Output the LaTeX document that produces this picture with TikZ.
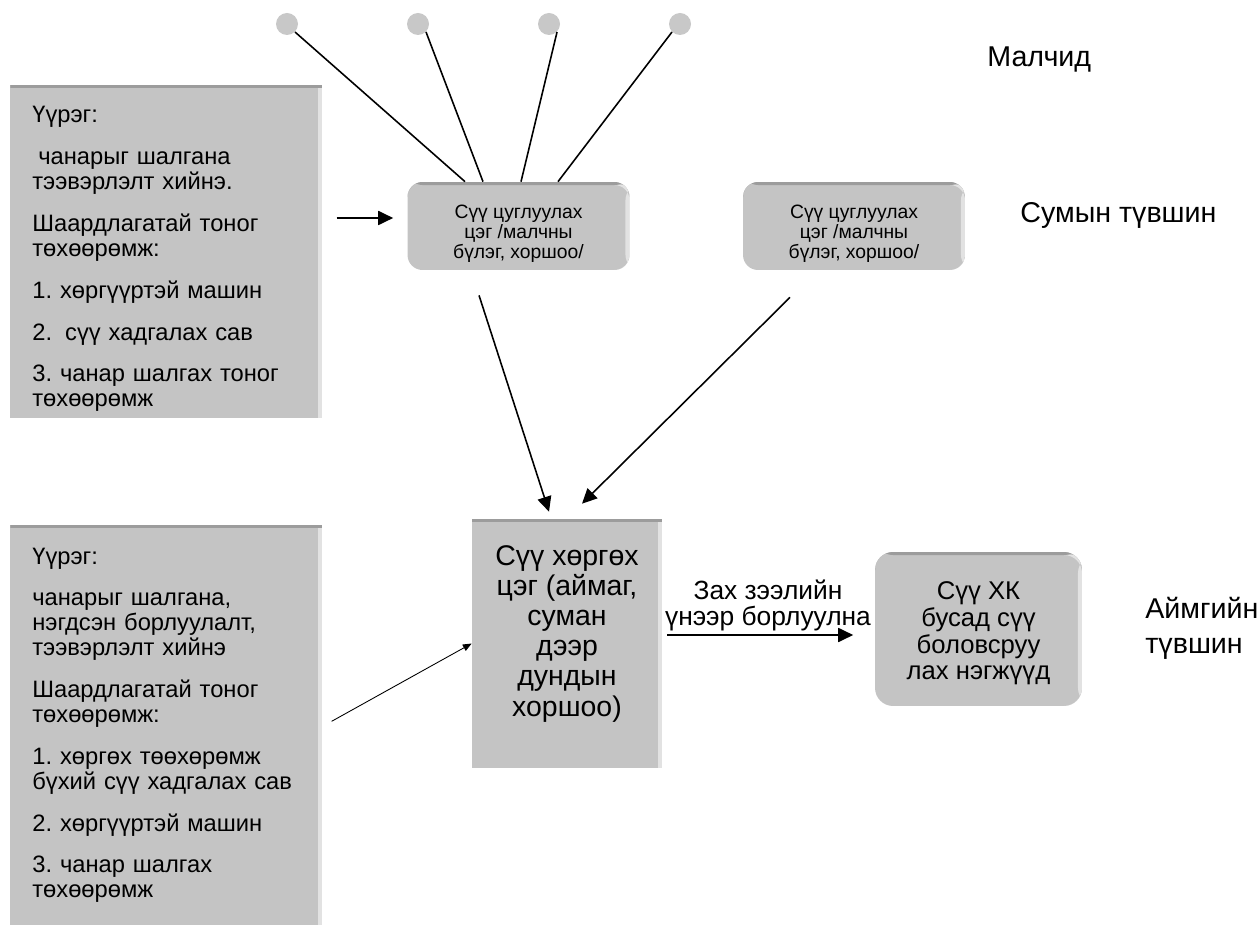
\documentclass[tikz,border=0pt]{standalone}
\usepackage{fontspec}
\setmainfont{Liberation Sans}
\usepackage{xcolor}
\usetikzlibrary{arrows.meta,calc}
\definecolor{boxgray}{HTML}{C4C4C4}
\definecolor{boxtop}{HTML}{9C9C9C}
\definecolor{boxside}{HTML}{E2E2E2}
\definecolor{dotgray}{HTML}{C8C8C8}
\frenchspacing

\tikzset{
  bevelbox/.style={fill=boxgray, path picture={
      \fill[boxtop] (path picture bounding box.north west) rectangle ([yshift=-0.06cm]path picture bounding box.north east);
      \fill[boxside] ([xshift=-0.08cm]path picture bounding box.south east) rectangle ([yshift=-0.06cm]path picture bounding box.north east);}},
  rolebox/.style={bevelbox, anchor=north west, minimum width=6.24cm, text width=5.36cm,
    inner xsep=0.44cm, inner ysep=0pt, align=left, font=\fontsize{13.5}{14.2}\selectfont},
  collectbox/.style={bevelbox, rounded corners=0.3cm, minimum width=4.44cm, minimum height=1.76cm,
    align=center, inner sep=0pt, font=\fontsize{11}{11.6}\selectfont},
  levellabel/.style={anchor=base west, align=left, inner sep=0pt, font=\fontsize{16.3}{19.8}\selectfont},
  farmer/.style={circle, fill=dotgray, minimum size=0.44cm, inner sep=0pt},
  flow/.style={-{Triangle[length=8.5pt,width=8pt]}, line width=0.9pt},
}

\begin{document}
\begin{tikzpicture}[x=0.02cm, y=-0.02cm]
\useasboundingbox (0,0) rectangle (1260,925);

% herders
\foreach \x [count=\i] in {287,418,549,680}
  \node[farmer] (m\i) at (\x,24) {};

% soum level
\node[rolebox, minimum height=6.66cm] (role1) at (10,85) {\rule{0pt}{17.7pt}Үүрэг:\\[9.6pt]
  \hspace*{0.25em}чанарыг шалгана\\ тээвэрлэлт хийнэ.\\[9.6pt]
  Шаардлагатай тоног\\ төхөөрөмж:\\[9.6pt]
  1. хөргүүртэй машин\\[9.6pt]
  2.\hspace*{0.55em}сүү хадгалах сав\\[9.6pt]
  3. чанар шалгах тоног\\ төхөөрөмж};
\node[collectbox] (col1) at (518.5,226) {\rule{0pt}{16.5pt}Сүү цуглуулах\\цэг /малчны\\бүлэг, хоршоо/};
\node[collectbox] (col2) at (854,226) {\rule{0pt}{16.5pt}Сүү цуглуулах\\цэг /малчны\\бүлэг, хоршоо/};

% aimag level
\node[rolebox, minimum height=8cm] (role2) at (10,525) {Үүрэг:\\[9.6pt]
  чанарыг шалгана,\\ нэгдсэн борлуулалт,\\ тээвэрлэлт хийнэ\\[9.6pt]
  Шаардлагатай тоног\\ төхөөрөмж:\\[9.6pt]
  1. хөргөх төөхөрөмж\\ бүхий сүү хадгалах сав\\[9.6pt]
  2. хөргүүртэй машин\\[9.6pt]
  3. чанар шалгах\\ төхөөрөмж};
\node[bevelbox, minimum width=3.8cm, minimum height=4.98cm, align=center,
  font=\fontsize{16.2}{17.2}\selectfont] (cool) at (567,643.5)
  {Сүү хөргөх\\цэг (аймаг,\\суман\\дээр\\дундын\\хоршоо)\rule[-14.6pt]{0pt}{0pt}};
\node[bevelbox, rounded corners=0.36cm, minimum width=4.14cm, minimum height=3.08cm, align=center,
  font=\fontsize{14.6}{15.1}\selectfont] (plant) at (978.5,629)
  {\rule{0pt}{15.3pt}Сүү ХК\\бусад сүү\\боловсруу\\лах нэгжүүд};

% level labels
\node[levellabel] (herders) at (987,67) {Малчид};
\node[levellabel] (soum) at (1020,223) {Сумын түвшин};
\node[levellabel, anchor=north west] (aimag) at (1145,597) {Аймгийн\\түвшин};

% connectors
\foreach \i/\a/\dx in {1/south east/-53.5, 2/south east/-35.5, 3/south east/2.5, 4/south west/39.5}
  \draw[line width=0.9pt] (m\i.\a) -- ($(col1.north)+(\dx,0)$);
\draw[flow] ($(role1.east|-col1.west)+(14,-8)$) -- ($(col1.west)+(-14,-8)$);
\draw[flow] ($(col1.south)+(-39.5,25)$) -- ($(cool.north)+(-18,-7)$);
\draw[flow] ($(col2.south)+(-64,27)$) -- ($(cool.north)+(15,-15)$);
\draw[flow] ($(cool.east)+(5,-8.5)$) -- ($(plant.west)+(-21.5,6)$);
\node[anchor=south, align=center, inner sep=0pt, font=\fontsize{15}{14.7}\selectfont] (sale) at (768,631)
  {Зах зээлийн\\үнээр борлуулна};
\draw[-{Triangle[length=5pt,width=4pt]}, line width=0.5pt] ($(role2.east)+(9,-4)$) -- (cool.west);
\end{tikzpicture}
\end{document}
